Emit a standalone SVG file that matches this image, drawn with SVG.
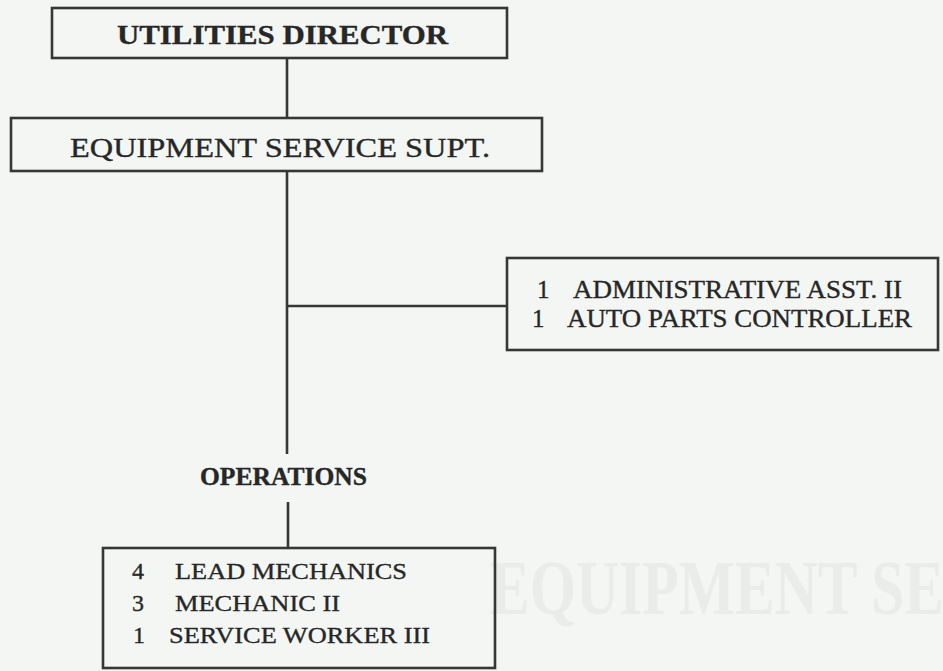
<svg xmlns="http://www.w3.org/2000/svg" width="943" height="671" viewBox="0 0 943 671">
<style>
.box{fill:none;stroke:#353635;stroke-width:2.6}
.ln{stroke:#353635;stroke-width:2.6;fill:none}
.t{font-family:"Liberation Serif","Times New Roman",serif;fill:#262726;stroke:#262726;stroke-width:0.35}
.b{font-weight:bold}
.wm{font-family:"Liberation Serif","Times New Roman",serif;font-weight:bold;fill:#eaecea}
</style>
<rect x="0" y="0" width="943" height="671" fill="#f4f6f4"/>
<text class="wm" x="490" y="614" font-size="78" textLength="644" lengthAdjust="spacingAndGlyphs">EQUIPMENT SERVICE</text>
<g id="connectors">
<line class="ln" x1="287" y1="58" x2="287" y2="118"/>
<line class="ln" x1="287" y1="171" x2="287" y2="454"/>
<line class="ln" x1="287" y1="306" x2="507" y2="306"/>
<line class="ln" x1="288" y1="502" x2="288" y2="548"/>
</g>
<g id="utilities-director">
<rect class="box" x="52" y="8" width="455" height="50"/>
<text class="t b" x="117" y="44" font-size="28" textLength="331" lengthAdjust="spacingAndGlyphs">UTILITIES DIRECTOR</text>
</g>
<g id="equipment-service-supt">
<rect class="box" x="11" y="118" width="531" height="53"/>
<text class="t" x="70" y="157" font-size="27" textLength="420" lengthAdjust="spacingAndGlyphs">EQUIPMENT SERVICE SUPT.</text>
</g>
<g id="admin-staff">
<rect class="box" x="507" y="258" width="431" height="92"/>
<text class="t" x="537" y="298" font-size="25">1</text>
<text class="t" x="573" y="298" font-size="25" textLength="329" lengthAdjust="spacingAndGlyphs">ADMINISTRATIVE ASST. II</text>
<text class="t" x="532" y="327" font-size="25">1</text>
<text class="t" x="567" y="327" font-size="25" textLength="345" lengthAdjust="spacingAndGlyphs">AUTO PARTS CONTROLLER</text>
</g>
<g id="operations-label">
<text class="t b" x="200" y="485" font-size="25" textLength="167" lengthAdjust="spacingAndGlyphs">OPERATIONS</text>
</g>
<g id="operations-staff">
<rect class="box" x="103" y="548" width="392" height="120"/>
<text class="t" x="132" y="579" font-size="24">4</text>
<text class="t" x="175" y="579" font-size="24" textLength="232" lengthAdjust="spacingAndGlyphs">LEAD MECHANICS</text>
<text class="t" x="132" y="611" font-size="24">3</text>
<text class="t" x="175" y="611" font-size="24" textLength="165" lengthAdjust="spacingAndGlyphs">MECHANIC II</text>
<text class="t" x="133" y="643" font-size="24">1</text>
<text class="t" x="169" y="643" font-size="24" textLength="261" lengthAdjust="spacingAndGlyphs">SERVICE WORKER III</text>
</g>
</svg>
